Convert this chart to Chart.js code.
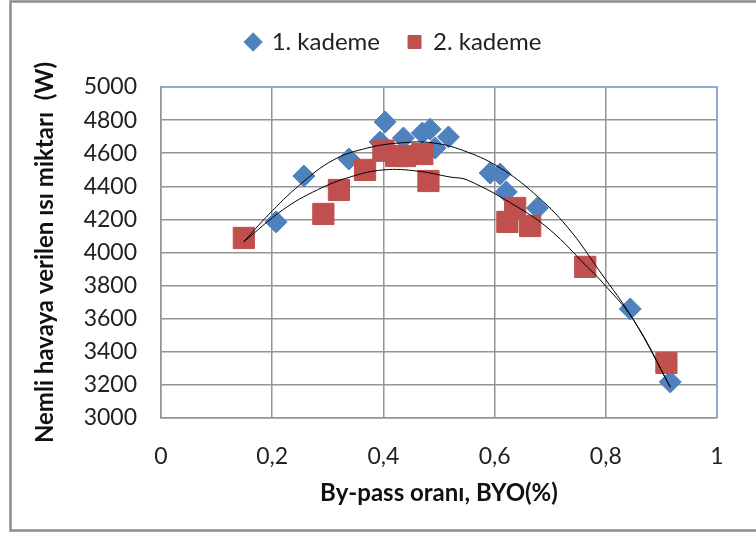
<!DOCTYPE html>
<html>
<head>
<meta charset="utf-8">
<script src="https://cdn.jsdelivr.net/npm/chart.js@4.4.1/dist/chart.umd.min.js"></script>
<style>
  html, body { margin: 0; padding: 0; background: #fff; }
</style>
</head>
<body>
<canvas id="chart" width="756" height="535"></canvas>
<script>
// 1. kademe (blue diamonds)
const byo1 = [0.207, 0.257, 0.338, 0.394, 0.403, 0.436, 0.470, 0.484, 0.493, 0.517, 0.592, 0.610, 0.621, 0.677, 0.844, 0.916]
const heat1 = [4185, 4462, 4565, 4668, 4789, 4692, 4722, 4745, 4631, 4698, 4480, 4474, 4366, 4269, 3659, 3218]

// 2. kademe (red squares)
const byo2 = [0.149, 0.292, 0.320, 0.367, 0.400, 0.423, 0.439, 0.470, 0.481, 0.623, 0.637, 0.664, 0.763, 0.909]
const heat2 = [4088, 4233, 4378, 4499, 4615, 4583, 4583, 4595, 4432, 4185, 4269, 4160, 3913, 3333]

// trend lines
const trend1X = [0.149, 0.193, 0.25, 0.31, 0.371, 0.43, 0.49, 0.551, 0.61, 0.67, 0.731, 0.79, 0.85, 0.916]
const trend1Y = [4065, 4227, 4410, 4559, 4631, 4662, 4662, 4607, 4511, 4360, 4154, 3882, 3592, 3187]
const trend2X = [0.149, 0.22, 0.281, 0.34, 0.40, 0.461, 0.52, 0.551, 0.641, 0.70, 0.767, 0.79, 0.85, 0.916]
const trend2Y = [4065, 4260, 4378, 4456, 4499, 4492, 4456, 4438, 4275, 4136, 3912, 3834, 3592, 3187]

const seriesNames = ['1. kademe', '2. kademe']
const xTickLabels = ['0', '0,2', '0,4', '0,6', '0,8', '1']
const yTickLabels = ['3000', '3200', '3400', '3600', '3800', '4000', '4200', '4400', '4600', '4800', '5000']

const toPoints = (xs, ys) => xs.map((x, i) => ({ x: x, y: ys[i] }))

Chart.defaults.font.family = 'Lato'

// push the plot area down below the legend
const legendSpacer = {
  id: 'legendSpacer',
  beforeInit(chart) {
    const fit = chart.legend.fit
    chart.legend.fit = function () {
      fit.call(this)
      this.height += 23
    }
  }
}

const frame = {
  id: 'frame',
  beforeDatasetsDraw(chart) {
    const { ctx, chartArea: a } = chart
    ctx.save()
    ctx.strokeStyle = '#8eaadb'
    ctx.lineWidth = 2
    ctx.beginPath()
    ctx.moveTo(a.left, a.top)
    ctx.lineTo(a.right, a.top)
    ctx.lineTo(a.right, a.bottom)
    ctx.stroke()
    ctx.restore()
  },
  afterDraw(chart) {
    const ctx = chart.ctx
    ctx.save()
    ctx.strokeStyle = '#8c8c8c'
    ctx.lineWidth = 2.5
    ctx.beginPath()
    ctx.moveTo(760, 1.5)
    ctx.lineTo(10.5, 1.5)
    ctx.lineTo(10.5, 530.5)
    ctx.lineTo(760, 530.5)
    ctx.stroke()
    ctx.restore()
  }
}

const trendStyle = {
  showLine: true,
  pointRadius: 0,
  borderColor: '#000',
  borderWidth: 1,
  tension: 0.4,
  fill: false,
  order: 0
}

new Chart(document.getElementById('chart'), {
  type: 'scatter',
  data: {
    datasets: [
      {
        label: seriesNames[0],
        data: toPoints(byo1, heat1),
        pointStyle: 'rectRot',
        pointRadius: 11,
        backgroundColor: '#4f81bd',
        borderColor: '#4f81bd',
        borderWidth: 1,
        order: 2
      },
      {
        label: seriesNames[1],
        data: toPoints(byo2, heat2),
        pointStyle: 'rect',
        pointRadius: 15,
        backgroundColor: '#c0504d',
        borderColor: '#c0504d',
        borderWidth: 1,
        order: 1
      },
      Object.assign({ label: 'trend1', data: toPoints(trend1X, trend1Y) }, trendStyle),
      Object.assign({ label: 'trend2', data: toPoints(trend2X, trend2Y) }, trendStyle)
    ]
  },
  options: {
    responsive: false,
    animation: false,
    events: [],
    layout: {
      padding: { left: 71, right: 39, top: 2, bottom: 0 }
    },
    plugins: {
      tooltip: { enabled: false },
      legend: {
        position: 'top',
        labels: {
          usePointStyle: true,
          boxWidth: 13,
          boxHeight: 13,
          padding: 28,
          color: '#222',
          font: { size: 24 },
          filter: item => item.datasetIndex < 2,
          sort: (a, b) => a.datasetIndex - b.datasetIndex
        }
      }
    },
    scales: {
      x: {
        type: 'linear',
        position: 'bottom',
        min: 0,
        max: 1,
        afterFit: s => { s.height = 117 },
        ticks: {
          stepSize: 0.2,
          padding: 25,
          color: '#222',
          font: { size: 23 },
          callback: (v, i) => xTickLabels[i]
        },
        grid: { color: '#949494', lineWidth: 1.5, drawTicks: false },
        border: { color: '#949494', width: 1.5 },
        title: {
          display: true,
          text: 'By-pass oranı, BYO(%)',
          color: '#111',
          font: { size: 24, weight: 'bold' },
          padding: { top: 0, bottom: 27.6 }
        }
      },
      y: {
        min: 3000,
        max: 5000,
        afterFit: s => { s.width = 90 },
        ticks: {
          stepSize: 200,
          padding: 24,
          color: '#222',
          font: { size: 23 },
          callback: (v, i) => yTickLabels[i]
        },
        grid: { color: '#949494', lineWidth: 1.5, drawTicks: false },
        border: { color: '#949494', width: 1.5 },
        title: {
          display: true,
          text: 'Nemli havaya verilen ısı miktarı  (W)',
          color: '#111',
          font: { size: 24, weight: 'bold' },
          padding: { top: -40.4, bottom: 0 }
        }
      }
    }
  },
  plugins: [legendSpacer, frame]
})
</script>
</body>
</html>
